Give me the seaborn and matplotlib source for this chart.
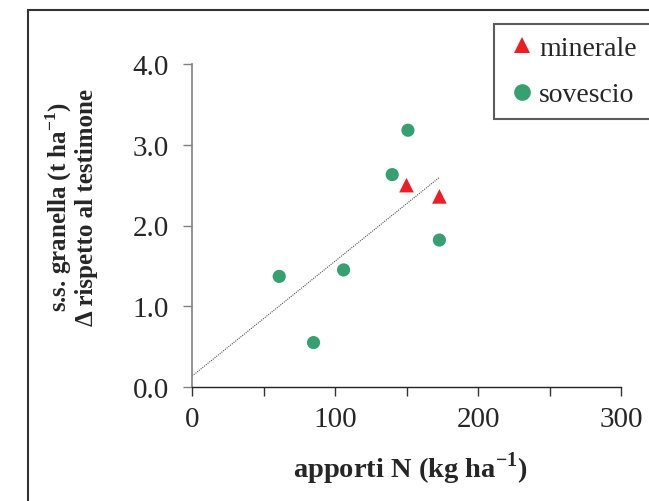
import numpy as np
import pandas as pd
import matplotlib
matplotlib.use("Agg")
import matplotlib.pyplot as plt
from matplotlib.patches import Rectangle
from matplotlib.lines import Line2D
import seaborn as sns

# data
minerale_x = [150, 173]
minerale_y = [2.50, 2.36]
sovescio_x = [61, 85, 106, 140, 151, 173]
sovescio_y = [1.37, 0.55, 1.45, 2.63, 3.18, 1.82]
series = ["minerale", "sovescio"]
x_ticks = [0, 50, 100, 150, 200, 250, 300]
x_labels = ["0", "", "100", "", "200", "", "300"]
y_ticks = [0.0, 1.0, 2.0, 3.0, 4.0]

df = pd.DataFrame({
    "N": minerale_x + sovescio_x,
    "dss": minerale_y + sovescio_y,
    "tipo": ["minerale"] * len(minerale_x) + ["sovescio"] * len(sovescio_x),
})

sns.set_theme(style="white")
plt.rcParams["font.family"] = ["Liberation Serif", "DejaVu Serif"]
plt.rcParams["mathtext.fontset"] = "custom"
plt.rcParams["mathtext.rm"] = "Liberation Serif"
plt.rcParams["mathtext.bf"] = "Liberation Serif:bold"

fig = plt.figure(figsize=(6.49, 5.02), dpi=100)
ax = fig.add_axes([192/649, 1-388/502, 429/649, 323/502])

palette = {"minerale": "#ee1c25", "sovescio": "#37a070"}
markers = {"minerale": "^", "sovescio": "o"}
sizes = {"minerale": 110, "sovescio": 90}
sns.scatterplot(data=df, x="N", y="dss", hue="tipo", style="tipo", size="tipo",
                palette=palette, markers=markers, sizes=sizes, linewidth=0,
                ax=ax, legend=False, clip_on=False, zorder=3)

# regression trend line over all points, from 0 to max x
xs = np.array(df["N"], dtype=float)
ys = np.array(df["dss"], dtype=float)
slope, intercept = np.polyfit(xs, ys, 1)
xl = np.linspace(0, xs.max(), 50)
ax.plot(xl, intercept + slope * xl, color="#555555", lw=0.8, ls=(0, (1, 1)), zorder=2)

ax.set_xlim(0, 300)
ax.set_ylim(0, 4)
ax.set_xticks(x_ticks)
ax.set_xticklabels(x_labels, fontsize=21)
ax.set_yticks(y_ticks)
ax.set_yticklabels([f"{v:.1f}" for v in y_ticks], fontsize=21)
ax.tick_params(axis="x", direction="out", length=6.5, width=1, color="#333333", pad=7, bottom=True)
ax.tick_params(axis="y", direction="out", length=6.5, width=1, color="#808080", pad=10, left=True)
for s in ["top", "right"]:
    ax.spines[s].set_visible(False)
ax.spines["left"].set_color("#808080")
ax.spines["left"].set_linewidth(1.2)
ax.spines["bottom"].set_color("#222222")
ax.spines["bottom"].set_linewidth(1.0)
ax.set_xlabel("")
ax.set_ylabel("")

fig.text(410/649, 1-469/502, r"apporti N (kg ha$^{\mathbf{-1}}$)", fontsize=20.5,
         fontweight="bold", ha="center", va="center")
fig.text(71/649, 1-207/502, "s.s. granella (t ha$^{\\mathbf{-1}}$)\n\u0394 rispetto al testimone",
         fontsize=18, fontweight="bold", rotation=90, ha="center", va="center",
         multialignment="center", linespacing=1.05)

handles = [Line2D([], [], ls="", marker=markers[k], color=palette[k],
                  markersize=12, markeredgewidth=0) for k in series]
leg = ax.legend(handles, series, loc="upper left",
                bbox_to_anchor=(494/649, 1-117/502, 250/649, 92/502),
                bbox_transform=fig.transFigure, mode="expand", borderaxespad=0,
                fontsize=20, frameon=True, fancybox=False, edgecolor="#333333",
                handletextpad=0.0, handlelength=1.2, labelspacing=0.75,
                borderpad=0.42)
leg.get_frame().set_linewidth(1.5)

# outer frame
fig.patches.append(Rectangle((28/649, -0.2), 1.2, 1-11/502+0.2, transform=fig.transFigure,
                             fill=False, edgecolor="#333333", linewidth=1.5, zorder=0))

fig.savefig("out.png", dpi=100)
